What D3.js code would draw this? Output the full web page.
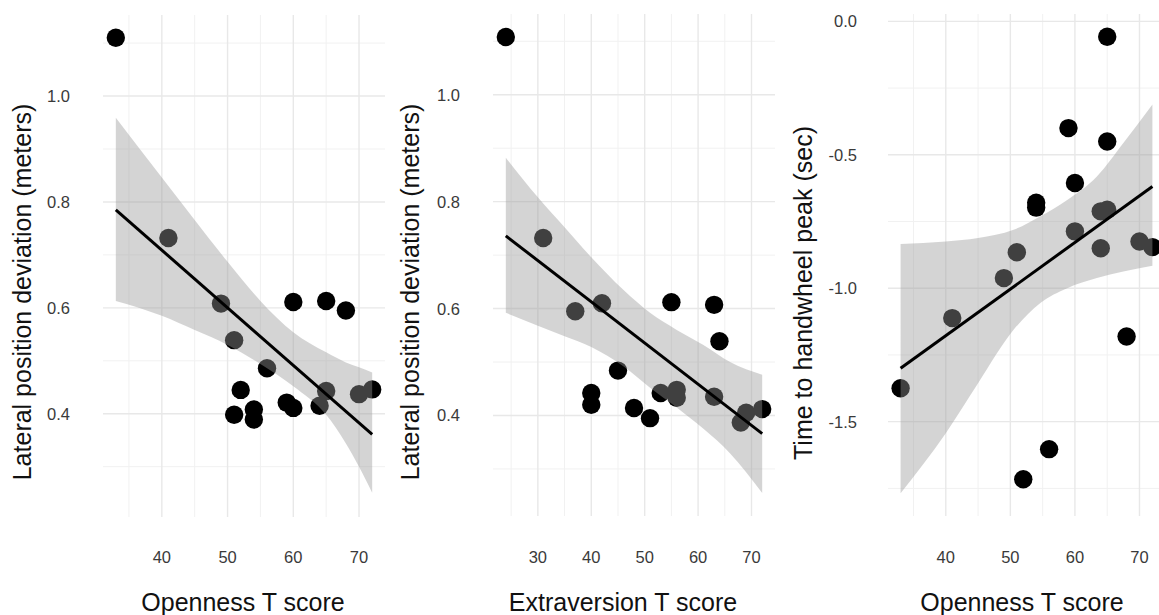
<!DOCTYPE html>
<html>
<head>
<meta charset="utf-8">
<script src="https://cdn.jsdelivr.net/npm/d3@7"></script>
<style>
  html, body { margin: 0; padding: 0; background: #ffffff; }
  svg { display: block; }
</style>
</head>
<body>
<svg id="chart" width="1159" height="615"></svg>
<script>
// ---------------- DATA ----------------
// Panel 1: Openness vs lateral position deviation
const p1X = [33, 41, 49, 51, 56, 52, 51, 54, 54, 60, 65, 68, 59, 60, 64, 65, 70, 72];
const p1Y = [1.11, 0.732, 0.608, 0.539, 0.486, 0.445, 0.398, 0.408, 0.389, 0.611, 0.613, 0.595, 0.421, 0.411, 0.415, 0.443, 0.437, 0.446];
const band1X  = [33, 40, 45, 50, 55, 60, 65, 68, 70, 72];
const band1Lo = [0.613, 0.585, 0.558, 0.530, 0.494, 0.452, 0.398, 0.344, 0.300, 0.251];
const band1Hi = [0.959, 0.846, 0.766, 0.687, 0.613, 0.554, 0.516, 0.497, 0.488, 0.478];
const fit1X = [33, 72];
const fit1Y = [0.785, 0.361];

// Panel 2: Extraversion vs lateral position deviation
const p2X = [24, 31, 37, 42, 55, 63, 64, 45, 40, 40, 48, 51, 53, 56, 56, 63, 68, 69, 72];
const p2Y = [1.108, 0.732, 0.595, 0.610, 0.612, 0.607, 0.539, 0.484, 0.442, 0.420, 0.414, 0.395, 0.442, 0.448, 0.433, 0.435, 0.387, 0.405, 0.412];
const band2X  = [24, 30, 35, 40, 46, 51, 56, 61, 66, 72];
const band2Lo = [0.592, 0.568, 0.548, 0.528, 0.492, 0.452, 0.415, 0.375, 0.329, 0.255];
const band2Hi = [0.882, 0.808, 0.752, 0.696, 0.635, 0.592, 0.560, 0.532, 0.500, 0.476];
const fit2X = [24, 72];
const fit2Y = [0.736, 0.366];

// Panel 3: Openness vs time to handwheel peak
const p3X = [65, 59, 65, 60, 54, 54, 64, 65, 60, 51, 64, 70, 72, 49, 41, 33, 68, 56, 52];
const p3Y = [-0.058, -0.40, -0.45, -0.606, -0.680, -0.698, -0.712, -0.706, -0.787, -0.865, -0.85, -0.825, -0.846, -0.962, -1.112, -1.375, -1.181, -1.603, -1.716];
const band3X  = [33, 40, 45, 50.5, 54.6, 58.8, 63.4, 67.5, 72];
const band3Lo = [-1.768, -1.543, -1.356, -1.156, -1.056, -1.000, -0.962, -0.937, -0.916];
const band3Hi = [-0.834, -0.825, -0.812, -0.781, -0.731, -0.669, -0.581, -0.456, -0.312];
const fit3X = [33, 72];
const fit3Y = [-1.30, -0.619];

// Ticks and titles
const xTicks1 = [40, 50, 60, 70];
const xMinor1 = [35, 45, 55, 65];
const yTicks1 = [0.4, 0.6, 0.8, 1.0];
const yMinor1 = [0.3, 0.5, 0.7, 0.9, 1.1];
const xTicks2 = [30, 40, 50, 60, 70];
const xMinor2 = [25, 35, 45, 55, 65];
const yTicks2 = [0.4, 0.6, 0.8, 1.0];
const yMinor2 = [0.3, 0.5, 0.7, 0.9, 1.1];
const xTicks3 = [40, 50, 60, 70];
const xMinor3 = [35, 45, 55, 65];
const yTicks3 = [0.0, -0.5, -1.0, -1.5];
const yMinor3 = [-0.25, -0.75, -1.25, -1.75];
const xTitles = ["Openness T score", "Extraversion T score", "Openness T score"];
const yTitles = ["Lateral position deviation (meters)", "Lateral position deviation (meters)", "Time to handwheel peak (sec)"];

// ---------------- DRAWING ----------------
const FONT = "'Liberation Sans', Arial, Helvetica, sans-serif";
const svg = d3.select("#chart");
svg.append("rect").attr("width", 1159).attr("height", 615).attr("fill", "#ffffff");

const panels = [
  { xs: p1X, ys: p1Y, bx: band1X, blo: band1Lo, bhi: band1Hi, fx: fit1X, fy: fit1Y,
    xDom: [31.05, 73.95], yDom: [0.205, 1.153], xRange: [103, 385], yRange: [517, 15],
    xTicks: xTicks1, xMinor: xMinor1, yTicks: yTicks1, yMinor: yMinor1, yFmt: d3.format(".1f"),
    yLabelX: 70, yTitleX: 31, yTitleY: 292, xTitleX: 243, xTitle: xTitles[0], yTitle: yTitles[0] },
  { xs: p2X, ys: p2Y, bx: band2X, blo: band2Lo, bhi: band2Hi, fx: fit2X, fy: fit2Y,
    xDom: [21.6, 74.4], yDom: [0.212, 1.151], xRange: [493, 775], yRange: [516, 14],
    xTicks: xTicks2, xMinor: xMinor2, yTicks: yTicks2, yMinor: yMinor2, yFmt: d3.format(".1f"),
    yLabelX: 460, yTitleX: 419, yTitleY: 292, xTitleX: 623, xTitle: xTitles[1], yTitle: yTitles[1] },
  { xs: p3X, ys: p3Y, bx: band3X, blo: band3Lo, bhi: band3Hi, fx: fit3X, fy: fit3Y,
    xDom: [31.05, 73.95], yDom: [-1.8535, 0.0275], xRange: [888, 1165], yRange: [516, 14],
    xTicks: xTicks3, xMinor: xMinor3, yTicks: yTicks3, yMinor: yMinor3, yFmt: d => d3.format(".1f")(d).replace("−", "-"),
    yLabelX: 857, yTitleX: 812, yTitleY: 293, xTitleX: 1022, xTitle: xTitles[2], yTitle: yTitles[2] }
];

panels.forEach((p, i) => {
  const x = d3.scaleLinear().domain(p.xDom).range(p.xRange);
  const y = d3.scaleLinear().domain(p.yDom).range(p.yRange);
  const g = svg.append("g");
  const clipId = "clip" + i;
  svg.append("clipPath").attr("id", clipId).append("rect")
    .attr("x", p.xRange[0]).attr("y", p.yRange[1])
    .attr("width", p.xRange[1] - p.xRange[0]).attr("height", p.yRange[0] - p.yRange[1]);
  const plot = g.append("g").attr("clip-path", `url(#${clipId})`);

  // minor grid
  plot.selectAll(".vminor").data(p.xMinor).enter().append("line")
    .attr("x1", d => x(d)).attr("x2", d => x(d)).attr("y1", p.yRange[1]).attr("y2", p.yRange[0])
    .attr("stroke", "#f1f1f1").attr("stroke-width", 1);
  plot.selectAll(".hminor").data(p.yMinor).enter().append("line")
    .attr("y1", d => y(d)).attr("y2", d => y(d)).attr("x1", p.xRange[0]).attr("x2", p.xRange[1])
    .attr("stroke", "#f1f1f1").attr("stroke-width", 1);
  // major grid
  plot.selectAll(".vmajor").data(p.xTicks).enter().append("line")
    .attr("x1", d => x(d)).attr("x2", d => x(d)).attr("y1", p.yRange[1]).attr("y2", p.yRange[0])
    .attr("stroke", "#e8e8e8").attr("stroke-width", 1.4);
  plot.selectAll(".hmajor").data(p.yTicks).enter().append("line")
    .attr("y1", d => y(d)).attr("y2", d => y(d)).attr("x1", p.xRange[0]).attr("x2", p.xRange[1])
    .attr("stroke", "#e8e8e8").attr("stroke-width", 1.4);

  // points
  const pts = p.xs.map((v, k) => [v, p.ys[k]]);
  plot.selectAll(".pt").data(pts).enter().append("circle")
    .attr("cx", d => x(d[0])).attr("cy", d => y(d[1])).attr("r", 9.2).attr("fill", "#000000");

  // confidence band
  const band = p.bx.map((v, k) => [v, p.blo[k], p.bhi[k]]);
  const area = d3.area().curve(d3.curveMonotoneX)
    .x(d => x(d[0])).y0(d => y(d[1])).y1(d => y(d[2]));
  plot.append("path").datum(band).attr("d", area)
    .attr("fill", "#999999").attr("fill-opacity", 0.42);

  // fit line
  const fit = p.fx.map((v, k) => [v, p.fy[k]]);
  plot.append("path").datum(fit)
    .attr("d", d3.line().x(d => x(d[0])).y(d => y(d[1])))
    .attr("stroke", "#000000").attr("stroke-width", 3).attr("fill", "none");

  // x tick labels
  g.selectAll(".xl").data(p.xTicks).enter().append("text")
    .attr("x", d => x(d)).attr("y", 563).attr("text-anchor", "middle")
    .attr("font-family", FONT).attr("font-size", 16.5).attr("fill", "#3a3a3a")
    .text(d => d);
  // y tick labels
  g.selectAll(".yl").data(p.yTicks).enter().append("text")
    .attr("x", p.yLabelX).attr("y", d => y(d)).attr("dy", "0.36em").attr("text-anchor", "end")
    .attr("font-family", FONT).attr("font-size", 16.5).attr("fill", "#3a3a3a")
    .text(d => p.yFmt(d));

  // titles
  g.append("text").attr("x", p.xTitleX).attr("y", 611).attr("text-anchor", "middle")
    .attr("font-family", FONT).attr("font-size", 25).attr("fill", "#111111")
    .text(p.xTitle);
  g.append("text").attr("transform", `translate(${p.yTitleX},${p.yTitleY}) rotate(-90)`)
    .attr("text-anchor", "middle")
    .attr("font-family", FONT).attr("font-size", 25).attr("fill", "#111111")
    .text(p.yTitle);
});
</script>
</body>
</html>
